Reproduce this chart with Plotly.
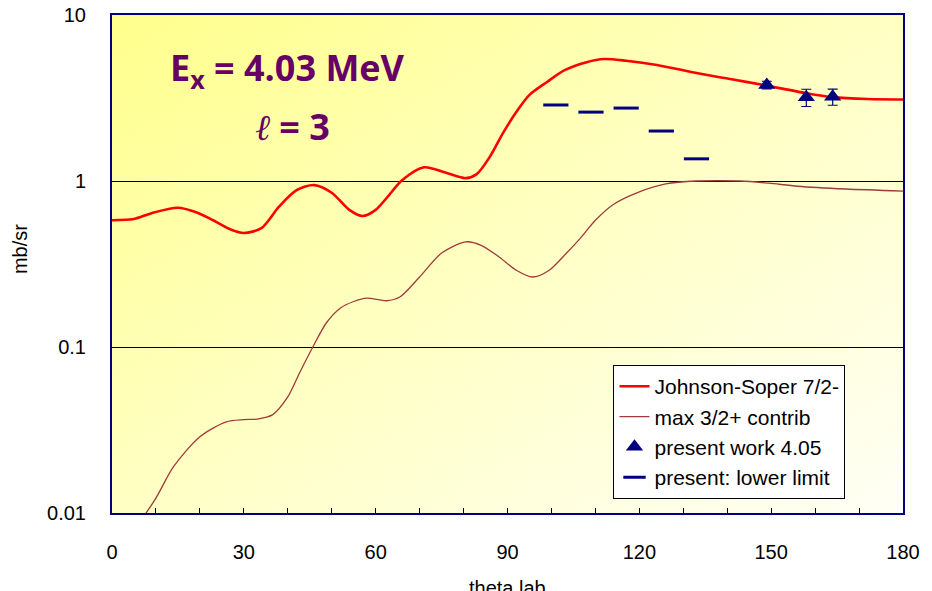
import base64
import plotly.graph_objects as go

# Johnson-Soper 7/2- curve
js_theta = [0, 5, 9, 15, 19, 23, 27, 30, 34, 38, 42, 46, 50, 54, 57, 60, 63, 66, 71, 76,
            80.5, 83, 86, 89, 92, 95, 99, 103, 108, 112, 117, 124, 133, 141, 148, 158, 164, 172, 180]
js_val = [0.58, 0.59, 0.64, 0.69, 0.65, 0.58, 0.51, 0.486, 0.52, 0.70, 0.88, 0.945, 0.85, 0.67,
          0.615, 0.67, 0.82, 1.01, 1.21, 1.12, 1.04, 1.10, 1.40, 1.95, 2.6, 3.3, 3.95, 4.65,
          5.2, 5.43, 5.3, 5.0, 4.47, 4.1, 3.8, 3.38, 3.2, 3.12, 3.1]

# max 3/2+ contribution
mx_theta = [6.3, 10, 14, 20, 26, 30, 33, 36.5, 40, 42.7, 45.7, 48.8, 52, 55, 58, 62.5, 65.5,
            70, 75, 80.5, 84, 88, 92, 95.7, 99.5, 103.5, 106.5, 110, 114, 120, 126, 133,
            143, 149.5, 156, 167, 180]
mx_val = [0.0088, 0.0123, 0.019, 0.0288, 0.0354, 0.0365, 0.0368, 0.039, 0.05, 0.07, 0.1, 0.14,
          0.172, 0.188, 0.197, 0.19, 0.2, 0.264, 0.368, 0.43, 0.41, 0.35, 0.29, 0.264, 0.29,
          0.37, 0.45, 0.58, 0.72, 0.86, 0.96, 1.0, 1.0, 0.97, 0.93, 0.895, 0.87]

# present work 4.05
pw_theta = [149, 158, 164]
pw_val = [3.79, 3.19, 3.22]
pw_err = [0.2, 0.38, 0.36]

# present: lower limit
ll_theta = [101, 109, 117, 125, 133]
ll_val = [2.87, 2.6, 2.75, 2.0, 1.36]

x_ticks = list(range(0, 181, 10))
x_ticktext = [str(v) if v % 30 == 0 else "" for v in x_ticks]
y_ticks = [0.01, 0.1, 1, 10]
y_ticktext = ["0.01", "0.1", "1", "10"]

NAVY = "#000080"
FONT = "Liberation Sans, Arial, sans-serif"

svg = (
    '<svg xmlns="http://www.w3.org/2000/svg" width="800" height="500" viewBox="0 0 800 500" '
    'preserveAspectRatio="none">'
    '<defs><linearGradient id="g" x1="0" y1="0" x2="1" y2="1">'
    '<stop offset="0" stop-color="#FFFF8C"/>'
    '<stop offset="0.5" stop-color="#FFFFC4"/>'
    '<stop offset="1" stop-color="#FFFFF6"/>'
    '</linearGradient></defs>'
    '<rect x="0" y="0" width="800" height="500" fill="url(#g)"/></svg>'
)
svg_uri = "data:image/svg+xml;base64," + base64.b64encode(svg.encode()).decode()

fig = go.Figure()

fig.add_trace(go.Scatter(
    x=js_theta, y=js_val, mode="lines", name="Johnson-Soper 7/2-",
    line=dict(color="#FF0000", width=2.6, shape="spline", smoothing=0.8),
))
fig.add_trace(go.Scatter(
    x=mx_theta, y=mx_val, mode="lines", name="max 3/2+ contrib",
    line=dict(color="#9E3B3B", width=1.3, shape="spline", smoothing=0.8),
))
fig.add_trace(go.Scatter(
    x=pw_theta, y=pw_val, mode="markers", name="present work 4.05",
    marker=dict(symbol="triangle-up", size=15, color=NAVY),
    error_y=dict(type="data", array=pw_err, color=NAVY, thickness=1.2, width=5),
))
fig.add_trace(go.Scatter(
    x=ll_theta, y=ll_val, mode="markers", name="present: lower limit",
    marker=dict(symbol="line-ew", size=18, color=NAVY, line=dict(color=NAVY, width=3)),
))

fig.add_annotation(
    x=0.2225, y=0.89, xref="paper", yref="paper", xanchor="center", yanchor="middle",
    text="<b>E<sub>x</sub> = 4.03 MeV</b>", showarrow=False,
    font=dict(family="Open Sans", size=36, color="#660066"),
)
fig.add_annotation(
    x=0.228, y=0.777, xref="paper", yref="paper", xanchor="center", yanchor="middle",
    text=("<span style='font-family:DejaVu Serif;font-style:italic;font-weight:normal'>ℓ</span>"
          "<b> = 3</b>"),
    showarrow=False,
    font=dict(family="Open Sans", size=36, color="#660066"),
)
fig.add_annotation(
    x=0.5, y=-0.125, xref="paper", yref="paper", xanchor="center", yanchor="top",
    text="theta lab", showarrow=False,
    font=dict(family=FONT, size=20, color="black"),
)
fig.add_annotation(
    x=-0.1163, y=0.53, xref="paper", yref="paper", xanchor="center", yanchor="middle",
    text="mb/sr", textangle=-90, showarrow=False,
    font=dict(family=FONT, size=20, color="black"),
)

fig.update_layout(
    width=932, height=591,
    margin=dict(l=112, r=29, t=15, b=78, autoexpand=False),
    paper_bgcolor="white",
    plot_bgcolor="rgba(0,0,0,0)",
    font=dict(family=FONT, size=20, color="black"),
    images=[dict(source=svg_uri, xref="paper", yref="paper", x=0, y=1,
                 sizex=1, sizey=1, sizing="stretch", layer="below",
                 xanchor="left", yanchor="top")],
    showlegend=True,
    legend=dict(
        x=0.634, y=0.297, xanchor="left", yanchor="top",
        bgcolor="white", bordercolor="black", borderwidth=1,
        font=dict(family=FONT, size=21, color="black"),
        tracegroupgap=0, itemwidth=30,
    ),
    xaxis=dict(
        range=[0, 180], tickmode="array", tickvals=x_ticks, ticktext=x_ticktext,
        ticks="inside", ticklen=5, tickcolor="black", tickwidth=1,
        showline=True, linecolor=NAVY, linewidth=2, mirror=True,
        showgrid=False, zeroline=False, ticklabelstandoff=20, automargin=False,
        tickfont=dict(family=FONT, size=20, color="black"),
    ),
    yaxis=dict(
        type="log", range=[-2, 1], tickmode="array", tickvals=y_ticks, ticktext=y_ticktext,
        ticks="", showline=True, linecolor=NAVY, linewidth=2, mirror=True,
        showgrid=True, gridcolor="black", gridwidth=1, zeroline=False,
        ticklabelstandoff=20, automargin=False,
        tickfont=dict(family=FONT, size=20, color="black"),
    ),
)

fig.write_html(
    "out.html",
    config={"displayModeBar": False},
    post_script="document.body.style.margin='0';document.body.style.overflow='hidden';",
)
